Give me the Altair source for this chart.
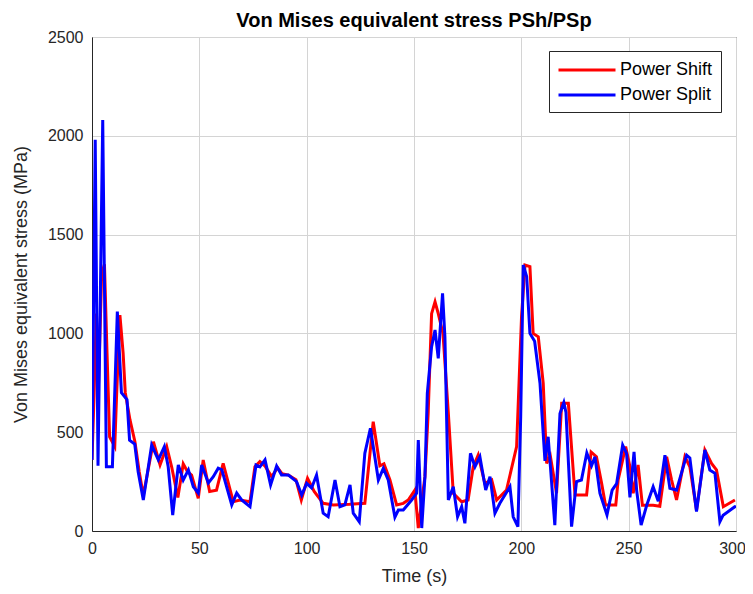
import altair as alt
import pandas as pd

# Power Shift (red) — time (s) and stress (MPa)
shift_time = [0, 1.0, 2.0, 3.0, 4.5, 5.8, 7.0, 8.2, 10.6, 11.5, 13.0, 14.5, 15.5, 17.7, 20.0,
              22.0, 23.9, 28.6, 31.7, 34.8, 37.1, 40.0, 42.5, 44.5, 46.4, 49.5, 51.8, 54.8, 58.0,
              61.1, 65.8, 68.9, 73.6, 75.9, 78.2, 80.5, 83.7, 86.5, 88.5, 91.5, 95.0, 97.5, 100.4,
              103.5, 107.7, 112.4, 120.0, 127.1, 131.0, 134.1, 136.0, 138.8, 141.9, 145.0, 147.3,
              150.4, 152.0, 155.1, 156.6, 158.2, 159.8, 161.3, 163.5, 166.0, 168.3, 172.2, 175.2,
              177.6, 179.9, 183.0, 186.2, 188.5, 193.1, 197.8, 200.1, 201.7, 204.0, 205.5, 207.9,
              210.2, 211.8, 213.5, 216.4, 218.8, 221.9, 225.0, 230.4, 232.5, 235.0, 237.4, 239.2,
              244.0, 245.1, 248.6, 250.6, 252.1, 254.4, 256.4, 261.4, 264.5, 267.7, 270.0, 272.3,
              276.2, 278.5, 281.6, 285.5, 288.6, 290.9, 294.1, 299.5]
shift_stress = [360, 700, 1100, 730, 1300, 1350, 900, 477, 427, 700, 1093, 900, 700, 562, 452,
                300, 180, 452, 334, 427, 325, 170, 340, 300, 283, 165, 359, 200, 207,
                342, 148, 157, 148, 325, 351, 330, 275, 320, 290, 283, 260, 157, 267,
                200, 140, 132, 135, 140, 553, 330, 340, 258, 132, 140, 157,
                207, 15, 275, 596, 1100, 1160, 1100, 1000, 596, 191, 148, 157,
                325, 384, 241, 258, 157, 207, 427, 1085, 1346, 1338, 1000, 983,
                747, 342, 380, 191, 646, 646, 182, 182, 400, 376, 241, 132,
                132, 258, 427, 325, 191, 334, 130, 130, 125, 376, 258, 157,
                376, 325, 106, 410, 342, 309, 123, 157]

# Power Split (blue) — time (s) and stress (MPa)
split_time = [0, 1.5, 2.8, 5.0, 6.7, 9.5, 11.8, 13.7, 16.3, 17.5, 19.9, 21.5, 23.9, 27.8, 30.9,
              33.7, 35.5, 37.6, 40.2, 42.5, 44.9, 47.2, 49.5, 51.1, 54.2, 56.5, 58.8, 60.5, 65.1,
              67.4, 69.7, 73.6, 76.4, 78.2, 80.6, 83.2, 86.0, 88.3, 91.5, 95.3, 97.7, 100.0, 102.3,
              104.6, 107.7, 110.0, 113.2, 115.5, 117.8, 120.2, 121.7, 124.5, 127.1, 129.7, 133.4,
              135.7, 138.0, 141.1, 142.7, 145.0, 148.9, 151.2, 152.0, 153.6, 155.1, 156.2, 158.2,
              159.8, 161.3, 163.3, 164.4, 166.0, 168.3, 170.3, 172.2, 173.7, 176.3, 178.4, 180.7,
              183.4, 185.4, 187.7, 190.0, 194.7, 196.2, 198.4, 199.7, 200.9, 202.5, 204.0, 206.2,
              208.7, 211.0, 212.5, 215.6, 218.0, 219.8, 220.8, 223.4, 225.7, 228.0, 230.5, 232.7,
              234.3, 236.6, 239.9, 242.3, 244.4, 247.2, 249.0, 250.6, 252.5, 253.7, 255.8, 258.4,
              261.4, 263.8, 266.9, 269.2, 272.3, 277.0, 278.5, 281.6, 285.5, 287.8, 290.2, 292.5,
              294.0, 299.5, 300.0]
split_stress = [360, 1980, 330, 2080, 325, 325, 1110, 700, 665, 460, 440, 300, 157, 435, 360,
                427, 325, 81, 334, 258, 309, 224, 192, 334, 243, 275, 318, 310, 132,
                192, 157, 123, 334, 325, 360, 233, 329, 283, 283, 250, 182, 241, 218,
                283, 90, 72, 258, 123, 132, 233, 90, 47, 393, 520, 258,
                317, 258, 70, 106, 106, 157, 191, 460, 15, 275, 697, 933,
                1017, 874, 1203, 983, 157, 224, 72, 123, 39, 393, 325, 376,
                207, 275, 90, 140, 224, 72, 22, 578, 1346, 1287, 1000, 960,
                747, 355, 477, 30, 595, 650, 600, 22, 250, 258, 395, 330,
                375, 191, 81, 207, 240, 435, 393, 170, 400, 207, 30, 130,
                224, 150, 384, 216, 207, 384, 370, 98, 410, 309, 292, 47,
                80, 123, 125]

series_names = ["Power Shift", "Power Split"]
series_colors = ["#ff0000", "#0000ff"]
x_ticks = [0, 50, 100, 150, 200, 250, 300]
y_ticks = [0, 500, 1000, 1500, 2000, 2500]

df = pd.concat([
    pd.DataFrame({"t": shift_time, "v": shift_stress, "s": series_names[0], "k": 0}),
    pd.DataFrame({"t": split_time, "v": split_stress, "s": series_names[1], "k": 1}),
], ignore_index=True)

FONT = "Liberation Sans"

chart = alt.Chart(df).mark_line(strokeWidth=3, clip=True).encode(
    x=alt.X("t:Q", title="Time (s)",
            scale=alt.Scale(domain=[0, 300], nice=False, zero=False),
            axis=alt.Axis(values=x_ticks, grid=True, format="d", titlePadding=11,
                          labelFlush=False,
                          labelOffset={"condition": {"test": "datum.value == 300", "value": -4},
                                       "value": 0})),
    y=alt.Y("v:Q", title="Von Mises equivalent stress (MPa)",
            scale=alt.Scale(domain=[0, 2500], nice=False),
            axis=alt.Axis(values=y_ticks, grid=True, format="d", titlePadding=17,
                          labelFlush=False)),
    color=alt.Color("s:N", scale=alt.Scale(domain=series_names, range=series_colors),
                    legend=alt.Legend(title=None, orient="none", legendX=457, legendY=14,
                                      symbolType="M-1,0H5", symbolSize=361, symbolStrokeWidth=3,
                                      labelFont=FONT, labelFontSize=18, labelColor="#000000",
                                      strokeColor="#262626", fillColor="#ffffff",
                                      padding=8, rowPadding=5, labelOffset=41)),
    detail="k:N",
    order=alt.Order("t:Q"),
).properties(
    width=644, height=494,
    title=alt.TitleParams("Von Mises equivalent stress PSh/PSp", font=FONT, fontSize=20,
                          fontWeight="bold", color="#000000", offset=-2, anchor="middle"),
    autosize=alt.AutoSizeParams(type="none"),
    padding={"left": 84, "top": 29, "right": 9, "bottom": 55},
).configure_view(
    stroke="#262626", strokeWidth=1
).configure_axis(
    labelFont=FONT, labelFontSize=16, labelColor="#262626",
    titleFont=FONT, titleFontSize=18, titleFontWeight="normal", titleColor="#262626",
    gridColor="#d4d4d4", gridWidth=1, domainColor="#262626",
    ticks=False, tickSize=0, labelPadding=9,
)

chart.save("out.html", embed_options={"renderer": "svg", "actions": False})
